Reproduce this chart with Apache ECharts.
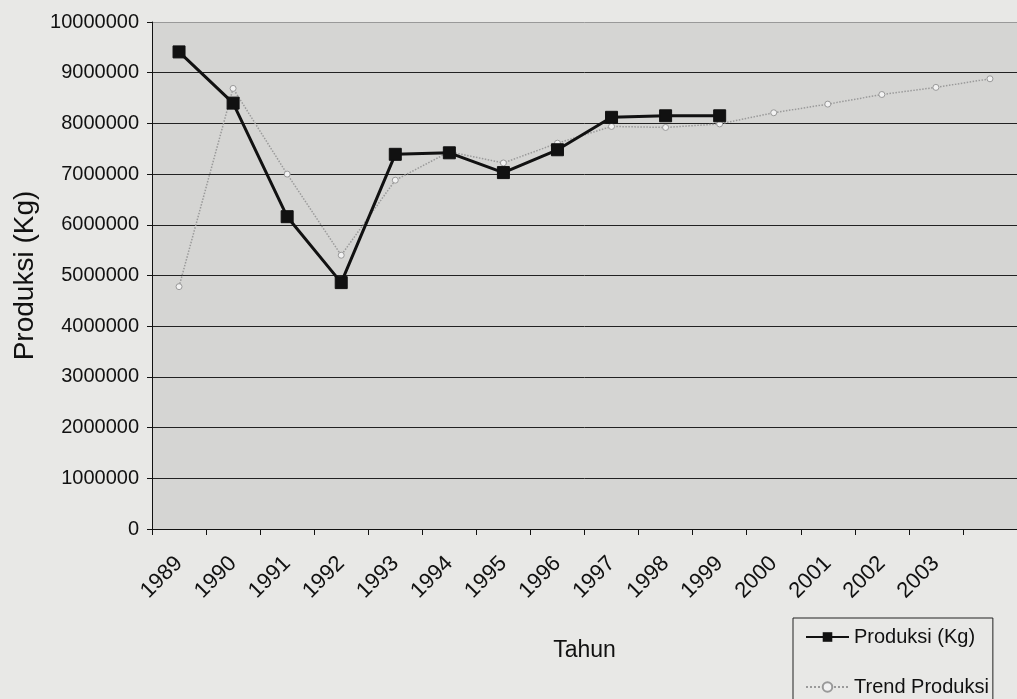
<!DOCTYPE html>
<html>
<head>
<meta charset="utf-8">
<script src="https://cdn.jsdelivr.net/npm/echarts@6/dist/echarts.min.js"></script>
<style>
html,body{margin:0;padding:0;background:#e8e8e6;}
#c{width:1017px;height:699px;}
</style>
</head>
<body>
<div id="c"></div>
<script>
const categories = ['1989','1990','1991','1992','1993','1994','1995','1996','1997','1998','1999','2000','2001','2002','2003',''];
const produksi = [9410000, 8400000, 6160000, 4860000, 7390000, 7420000, 7030000, 7480000, 8120000, 8150000, 8150000];
const trend = [4780000, 8690000, 7000000, 5400000, 6880000, 7440000, 7220000, 7610000, 7940000, 7920000, 7990000, 8210000, 8380000, 8570000, 8710000, 8880000];
const yTicks = [0, 10000000, 1000000];

const chart = echarts.init(document.getElementById('c'));
const font = '"Liberation Sans", Arial, sans-serif';
const gridColors = ['#222','#222','#222','#222','#222','#222','#222','#222','#222','#222','#999'];
chart.setOption({
  animation: false,
  backgroundColor: '#e8e8e6',
  textStyle: {fontFamily: font, color: '#111'},
  grid: {left: 152, right: -4, top: 22, bottom: 170, show: true, backgroundColor: '#d5d5d3', borderWidth: 0},
  xAxis: {
    type: 'category',
    data: categories,
    boundaryGap: true,
    name: 'Tahun',
    nameLocation: 'middle',
    nameGap: 110,
    nameTextStyle: {fontFamily: font, fontSize: 23, color: '#111'},
    axisLine: {lineStyle: {color: '#111', width: 1}},
    axisTick: {show: true, length: 6, inside: false, lineStyle: {color: '#111'}},
    axisLabel: {rotate: 45, margin: 31, fontFamily: font, fontSize: 22, color: '#111', interval: 0}
  },
  yAxis: {
    type: 'value',
    min: yTicks[0], max: yTicks[1], interval: yTicks[2],
    name: 'Produksi (Kg)',
    nameLocation: 'middle',
    nameRotate: 90,
    nameGap: 109,
    nameTextStyle: {fontFamily: font, fontSize: 28, color: '#111'},
    axisLine: {show: true, lineStyle: {color: '#111', width: 1}},
    axisTick: {show: true, length: 5, lineStyle: {color: '#111'}},
    axisLabel: {margin: 13, fontFamily: font, fontSize: 20, color: '#111', formatter: function (v) { return String(v); }},
    splitLine: {show: true, lineStyle: {color: gridColors, width: 1}}
  },
  legend: {
    orient: 'vertical',
    left: 793, top: 618,
    height: 140,
    padding: [9, 4, 30, 12],
    itemGap: 30,
    itemWidth: 43,
    itemHeight: 12,
    itemTextGap: 4,
    borderColor: '#222', borderWidth: 1,
    backgroundColor: 'transparent',
    textStyle: {fontFamily: font, fontSize: 20, color: '#111'},
    data: ['Produksi (Kg)', 'Trend Produksi']
  },
  series: [
    {
      name: 'Trend Produksi',
      type: 'line',
      data: trend,
      symbol: 'circle',
      symbolSize: 6,
      z: 2,
      lineStyle: {color: '#9a9a9a', width: 1.5, type: 'dotted'},
      itemStyle: {color: '#f2f2f2', borderColor: '#999', borderWidth: 1}
    },
    {
      name: 'Produksi (Kg)',
      type: 'line',
      data: produksi,
      symbol: 'rect',
      symbolSize: 12,
      z: 3,
      lineStyle: {color: '#111', width: 3},
      itemStyle: {color: '#111', borderColor: '#111'}
    }
  ]
});
</script>
</body>
</html>
